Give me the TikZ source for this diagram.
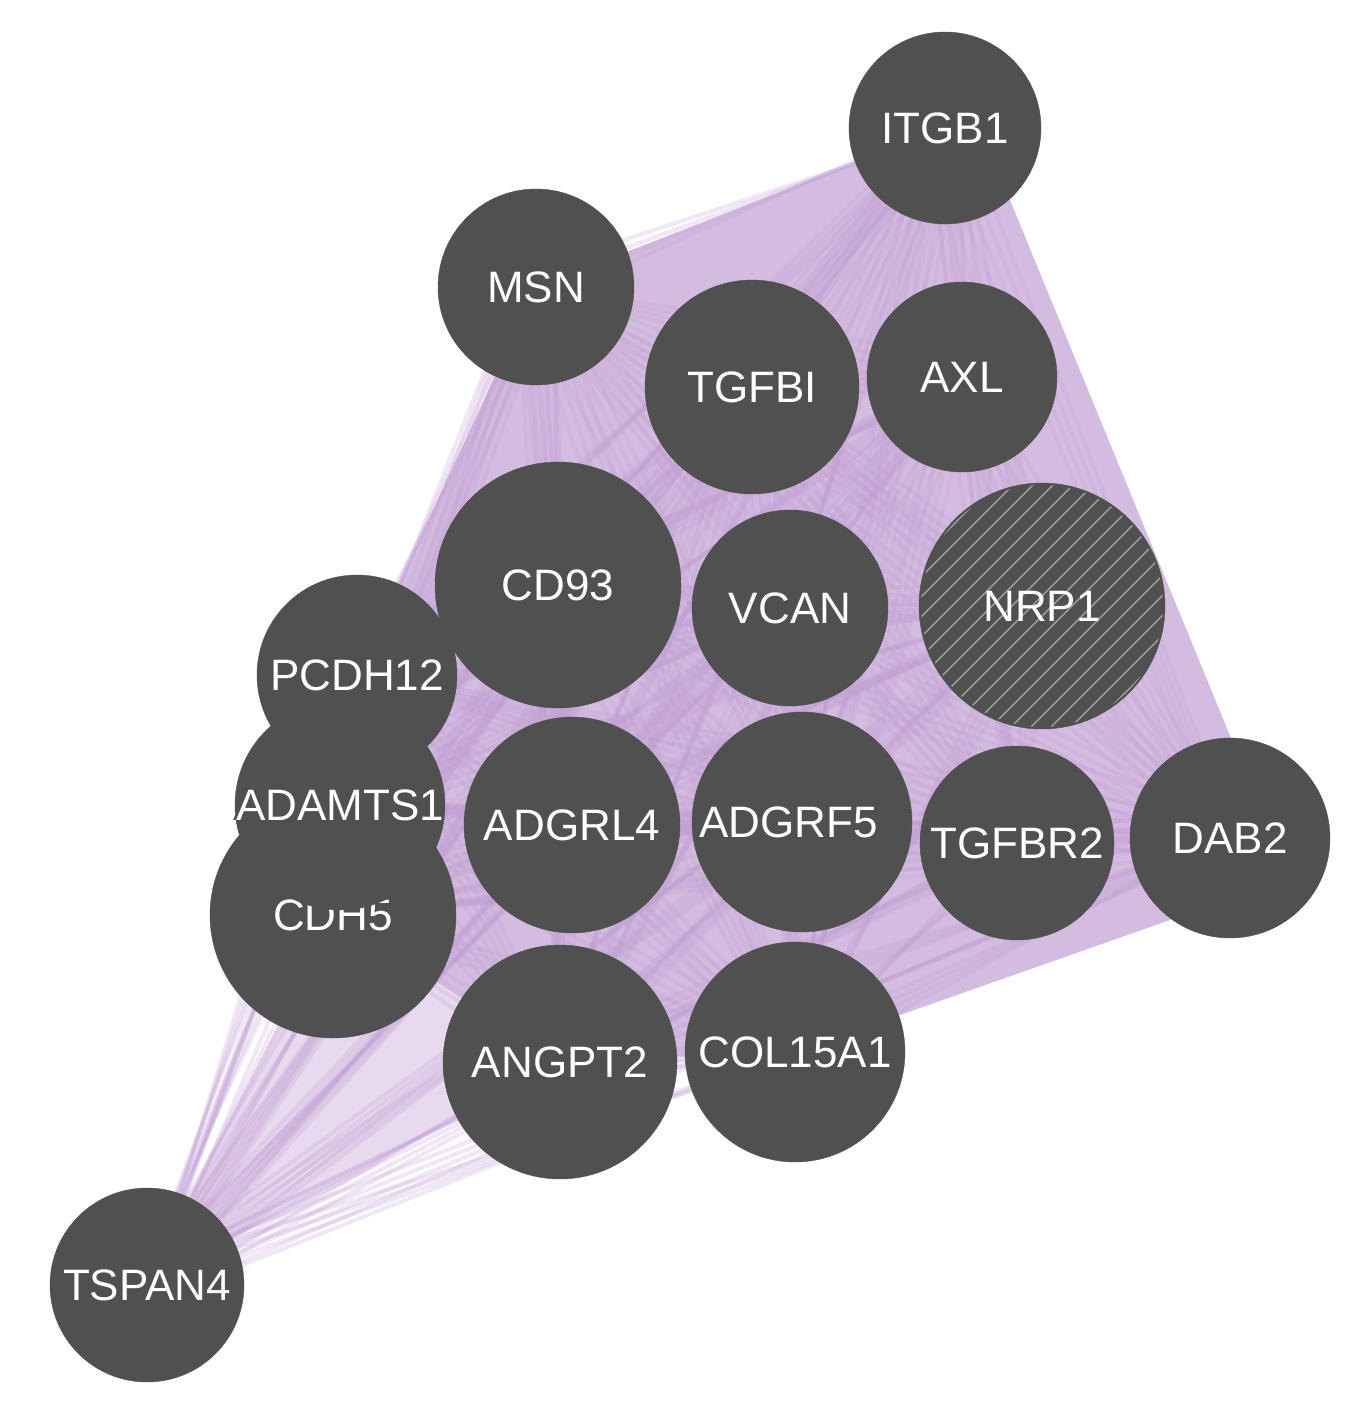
\documentclass[tikz,border=0pt]{standalone}
\usepackage{fontspec}
\setmainfont{Liberation Sans}
\begin{document}
\begin{tikzpicture}[x=1pt,y=-1pt,
  gene/.style={circle,fill=nodegray,draw=nodegray,inner sep=0pt},
  lab/.style={text=white,font=\fontsize{44}{44}\selectfont},
  edge/.style={draw=edgepurple,line width=4pt,opacity=0.25}]
\definecolor{nodegray}{RGB}{80,80,80}
\definecolor{edgepurple}{RGB}{195,160,212}
\definecolor{hullpurple}{RGB}{212,188,224}
\useasboundingbox (0,0) rectangle (1364,1408);
\newcommand\halotext[1]{%
  \foreach \dx/\dy in {-3/0,3/0,0/-3,0/3}{\node[lab,text=nodegray] at ([xshift=\dx pt,yshift=\dy pt]\lbl) {#1};}%
  \node[lab] at (\lbl) {#1};}
% centres
\foreach \n/\x/\y in {ITGB1/945/128,MSN/536/287,TGFBI/752/387,AXL/962/377,CD93/558/585,VCAN/790/608,NRP1/1042/606,PCDH12/357/675,ADAMTS1/340/805,CDH5/333/915,ADGRL4/572/825,ADGRF5/802/822,TGFBR2/1017/843,DAB2/1230/838,ANGPT2/560/1062,COL15A1/795/1052,TSPAN4/147/1285}
  \coordinate (c-\n) at (\x,\y);
% dense edge area
\fill[hullpurple] (c-ITGB1) -- (1010,200) -- (1240,760) -- (1170,920) -- (c-COL15A1) -- (c-ANGPT2) -- (c-CDH5) -- (c-PCDH12) -- (c-MSN) -- cycle;
\fill[hullpurple,opacity=0.55] (c-CDH5) -- (c-TSPAN4) -- (c-ANGPT2) -- cycle;
% edges
\foreach \a [count=\i] in {ITGB1,MSN,TGFBI,AXL,CD93,VCAN,NRP1,PCDH12,ADAMTS1,CDH5,ADGRL4,ADGRF5,TGFBR2,DAB2,ANGPT2,COL15A1,TSPAN4}{
  \foreach \b [count=\j] in {ITGB1,MSN,TGFBI,AXL,CD93,VCAN,NRP1,PCDH12,ADAMTS1,CDH5,ADGRL4,ADGRF5,TGFBR2,DAB2,ANGPT2,COL15A1,TSPAN4}{
    \ifnum\j>\i
      \foreach \o in {-18,-6,6,18}{
        \draw[edge] ([xshift=\o pt]c-\a) -- ([yshift=\o pt]c-\b);}
    \fi}}
% nodes
\foreach \n/\r in {ITGB1/96,MSN/98,TGFBI/107,AXL/95,CD93/123,VCAN/98,NRP1/123,ADGRL4/108,ADGRF5/110,TGFBR2/97,DAB2/100,ANGPT2/117,COL15A1/110,TSPAN4/97}
  \node[gene,minimum size=2*\r pt] (n-\n) at (c-\n) {};
\begin{scope}
  \clip (c-NRP1) circle (121pt);
  \begin{scope}[shift={(1042,606)}]
  \foreach \k in {-400,-380,...,140}
    \draw[gray!80,line width=1.5pt] (\k,130) -- ++(260,-260);
  \end{scope}
\end{scope}
\foreach \n in {ITGB1,MSN,TGFBI,AXL,CD93,VCAN,NRP1,ADGRL4,DAB2,COL15A1}
  \node[lab] at (c-\n) {\n};
\node[lab] at (c-ANGPT2) {ANGPT2};
\node[lab] at (c-TGFBR2) {TGFBR2};
\begin{scope}
  \clip (690,700) rectangle (902,940);
  \node[lab,anchor=west] at ([xshift=-106pt]c-ADGRF5) {ADGRF5};
\end{scope}
\def\lbl{c-TSPAN4}\halotext{TSPAN4}
% overlapping left cluster
\node[gene,minimum size=246pt] (n-CDH5) at (c-CDH5) {};
\node[lab] at (c-CDH5) {CDH5};
\node[gene,minimum size=200pt] (n-PCDH12) at (c-PCDH12) {};
\node[gene,minimum size=210pt] (n-ADAMTS1) at (c-ADAMTS1) {};
\def\lbl{c-PCDH12}\halotext{PCDH12}
\def\lbl{c-ADAMTS1}\halotext{ADAMTS1}
\end{tikzpicture}
\end{document}
